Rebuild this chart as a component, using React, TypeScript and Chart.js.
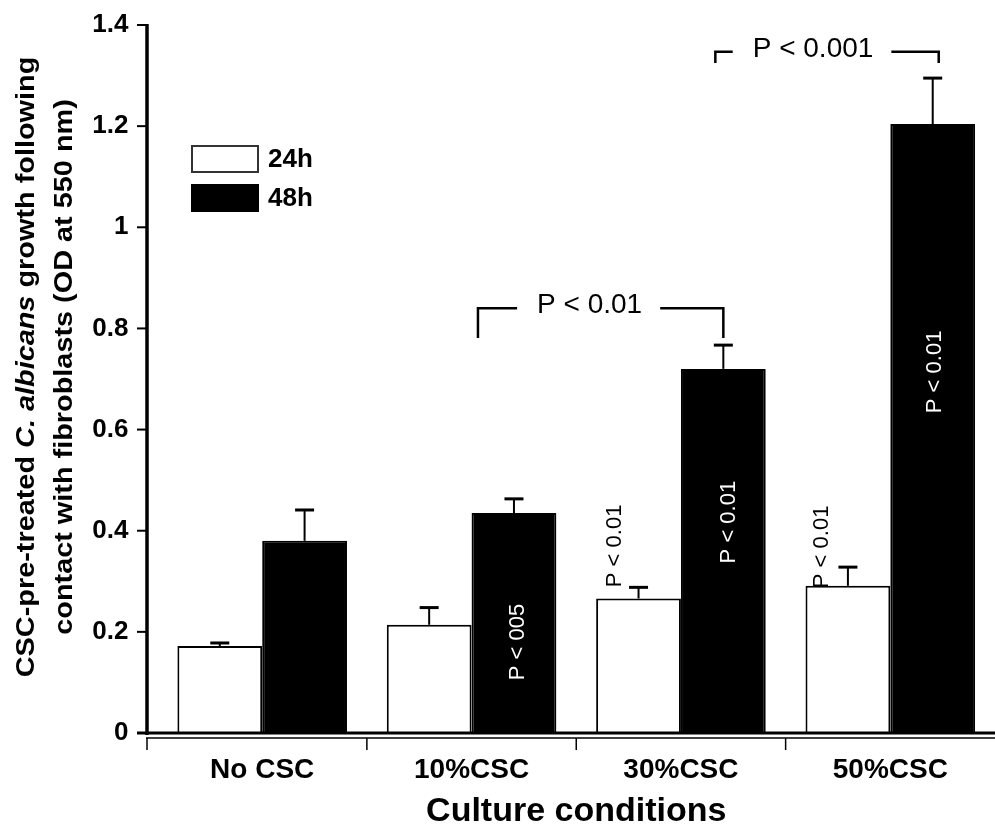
import React, { useEffect, useRef } from 'react';
import { Chart, registerables } from 'chart.js';

Chart.register(...registerables);

const categories = ['No CSC', '10%CSC', '30%CSC', '50%CSC'];
const seriesNames = ['24h', '48h'];
const mean24h = [0.172, 0.214, 0.266, 0.291];
const err24h = [0.006, 0.034, 0.022, 0.037];
const mean48h = [0.38, 0.435, 0.72, 1.204];
const err48h = [0.061, 0.028, 0.047, 0.091];
const yTickValues = [0, 0.2, 0.4, 0.6, 0.8, 1, 1.2, 1.4];
const yTickLabels = ['0', '0.2', '0.4', '0.6', '0.8', '1', '1.2', '1.4'];
const xTitle = 'Culture conditions';
const yTitleLine1 = [
  { t: 'CSC-pre-treated ', i: false },
  { t: 'C. albicans', i: true },
  { t: ' growth following', i: false },
];
const yTitleLine2 = [{ t: 'contact with fibroblasts (OD at 550 nm)', i: false }];

// significance brackets: text, left/right [category, dataset], top value, end value
const bracketTexts = ['P < 0.01', 'P < 0.001'];
const bracketLeft = [[1, 1], [2, 1]];
const bracketRight = [[2, 1], [3, 1]];
const bracketTop = [0.84, 1.347];
const bracketEnd = [0.781, 1.325];
const bracketLeftShift = [-36, -8];
const bracketRightShift = [0, 6];
const bracketTextShift = [-11, -14];

// rotated p-value labels: text, category, dataset, value of centre, colour
const pTexts = ['P < 005', 'P < 0.01', 'P < 0.01', 'P < 0.01', 'P < 0.01'];
const pCats = [1, 2, 3, 2, 3];
const pSets = [1, 1, 1, 0, 0];
const pValues = [0.18, 0.417, 0.714, 0.37, 0.368];
const pColors = ['#ffffff', '#ffffff', '#ffffff', '#000000', '#000000'];
const pShift = [4, 6, 2, -24, -26];

const FONT = '"Liberation Sans", Arial, sans-serif';

const overlay = {
  id: 'overlay',
  afterDatasetsDraw(chart: any) {
    const { ctx, chartArea, scales } = chart;
    const x = scales.x;
    const y = scales.y;
    const y0 = y.getPixelForValue(0);
    const axisX = chartArea.left - 10.5;
    ctx.save();
    ctx.strokeStyle = '#000';
    ctx.lineCap = 'butt';

    // y axis
    ctx.lineWidth = 3.5;
    ctx.beginPath();
    ctx.moveTo(axisX, y.getPixelForValue(1.4) - 1);
    ctx.lineTo(axisX, y0 + 2);
    ctx.stroke();
    ctx.lineWidth = 2;
    yTickValues.forEach((v) => {
      if (v === 0) return;
      const py = y.getPixelForValue(v);
      ctx.beginPath();
      ctx.moveTo(axisX - 10, py);
      ctx.lineTo(axisX, py);
      ctx.stroke();
    });
    // baseline
    ctx.lineWidth = 3;
    ctx.beginPath();
    ctx.moveTo(axisX - 10, y0);
    ctx.lineTo(chartArea.right, y0);
    ctx.stroke();
    // x axis (offset)
    const xa = y0 + 5;
    ctx.lineWidth = 1.5;
    ctx.beginPath();
    ctx.moveTo(axisX - 1, xa);
    ctx.lineTo(chartArea.right, xa);
    ctx.stroke();
    const tickXs = [axisX];
    for (let i = 0; i < categories.length - 1; i++) {
      tickXs.push((x.getPixelForValue(i) + x.getPixelForValue(i + 1)) / 2);
    }
    tickXs.forEach((tx) => {
      ctx.beginPath();
      ctx.moveTo(tx, xa);
      ctx.lineTo(tx, xa + 12);
      ctx.stroke();
    });

    // error bars
    const means = [mean24h, mean48h];
    const errs = [err24h, err48h];
    for (let d = 0; d < 2; d++) {
      const meta = chart.getDatasetMeta(d);
      meta.data.forEach((el: any, i: number) => {
        const bx = el.x;
        const top = y.getPixelForValue(means[d][i] + errs[d][i]);
        const base = y.getPixelForValue(means[d][i]);
        ctx.lineWidth = 2;
        ctx.beginPath();
        ctx.moveTo(bx, base);
        ctx.lineTo(bx, top);
        ctx.stroke();
        ctx.lineWidth = 3;
        ctx.beginPath();
        ctx.moveTo(bx - 9.5, top);
        ctx.lineTo(bx + 9.5, top);
        ctx.stroke();
      });
    }

    // brackets
    ctx.font = `28px ${FONT}`;
    ctx.textAlign = 'center';
    ctx.textBaseline = 'middle';
    bracketTexts.forEach((t, k) => {
      const l = chart.getDatasetMeta(bracketLeft[k][1]).data[bracketLeft[k][0]].x + bracketLeftShift[k];
      const r = chart.getDatasetMeta(bracketRight[k][1]).data[bracketRight[k][0]].x + bracketRightShift[k];
      const ty = y.getPixelForValue(bracketTop[k]);
      const ey = y.getPixelForValue(bracketEnd[k]);
      const cx = (l + r) / 2 + bracketTextShift[k];
      const w = ctx.measureText(t).width;
      ctx.lineWidth = 2.5;
      ctx.beginPath();
      ctx.moveTo(l, ey);
      ctx.lineTo(l, ty);
      ctx.lineTo(cx - w / 2 - 20, ty);
      ctx.moveTo(cx + w / 2 + 18, ty);
      ctx.lineTo(r, ty);
      ctx.lineTo(r, ey);
      ctx.stroke();
      ctx.fillStyle = '#000';
      ctx.fillText(t, cx, ty - 3);
    });

    // rotated p labels
    ctx.font = `22px ${FONT}`;
    pTexts.forEach((t, k) => {
      const el = chart.getDatasetMeta(pSets[k]).data[pCats[k]];
      ctx.save();
      ctx.translate(el.x + pShift[k], y.getPixelForValue(pValues[k]));
      ctx.rotate(-Math.PI / 2);
      ctx.fillStyle = pColors[k];
      ctx.fillText(t, 0, 0);
      ctx.restore();
    });

    // legend
    const lx = 192;
    const lys = [146, 185];
    ctx.textAlign = 'left';
    ctx.font = `bold 26px ${FONT}`;
    seriesNames.forEach((n, k) => {
      ctx.fillStyle = k === 0 ? '#fff' : '#000';
      ctx.fillRect(lx, lys[k], 66, 26);
      ctx.lineWidth = 2;
      ctx.strokeStyle = k === 0 ? '#333' : '#000';
      ctx.strokeRect(lx, lys[k], 66, 26);
      ctx.fillStyle = '#000';
      ctx.fillText(n, 268, lys[k] + 14);
    });

    // y title
    const drawLine = (segs: any[], bx: number, cy: number) => {
      ctx.save();
      ctx.translate(bx, cy);
      ctx.rotate(-Math.PI / 2);
      ctx.scale(1.11, 1);
      ctx.textBaseline = 'alphabetic';
      ctx.textAlign = 'left';
      let total = 0;
      segs.forEach((s) => {
        ctx.font = `${s.i ? 'italic ' : ''}bold 26px ${FONT}`;
        total += ctx.measureText(s.t).width;
      });
      let pos = -total / 2;
      segs.forEach((s) => {
        ctx.font = `${s.i ? 'italic ' : ''}bold 26px ${FONT}`;
        ctx.fillStyle = '#000';
        ctx.fillText(s.t, pos, 0);
        pos += ctx.measureText(s.t).width;
      });
      ctx.restore();
    };
    drawLine(yTitleLine1, 34, 367);
    drawLine(yTitleLine2, 72, 367);

    ctx.restore();
  },
};

export default function App() {
  const ref = useRef<HTMLCanvasElement>(null);
  useEffect(() => {
    if (!ref.current) return;
    const chart = new Chart(ref.current, {
      type: 'bar',
      data: {
        labels: categories,
        datasets: [
          {
            label: seriesNames[0],
            data: mean24h,
            backgroundColor: '#ffffff',
            borderColor: '#000000',
            borderWidth: 2,
          },
          {
            label: seriesNames[1],
            data: mean48h,
            backgroundColor: '#000000',
            borderColor: '#000000',
            borderWidth: 2,
          },
        ],
      },
      options: {
        animation: false,
        responsive: false,
        maintainAspectRatio: false,
        layout: { padding: { left: 0, right: 0, top: 25, bottom: 0 } },
        datasets: { bar: { categoryPercentage: 0.81, barPercentage: 1 } },
        plugins: { legend: { display: false }, tooltip: { enabled: false } },
        scales: {
          x: {
            grid: { display: false, drawTicks: false },
            border: { display: false },
            ticks: {
              color: '#000',
              padding: 20,
              font: { family: FONT, size: 28, weight: 'bold' },
            },
            title: {
              display: true,
              text: xTitle,
              color: '#000',
              padding: { top: 0, bottom: 1 },
              font: { family: FONT, size: 34, weight: 'bold', lineHeight: 1 },
            },
            afterFit: (s: any) => {
              s.height = 97;
              s.paddingLeft = 0;
              s.paddingRight = 0;
            },
          },
          y: {
            min: 0,
            max: 1.4,
            grid: { display: false, drawTicks: false },
            border: { display: false },
            ticks: {
              stepSize: 0.2,
              color: '#000',
              padding: 29,
              font: { family: FONT, size: 26, weight: 'bold' },
              callback: (v: any) => {
                const idx = yTickValues.findIndex((t) => Math.abs(t - Number(v)) < 1e-6);
                return idx >= 0 ? yTickLabels[idx] : '';
              },
            },
            afterFit: (s: any) => {
              s.width = 157.5;
              s.paddingTop = 0;
              s.paddingBottom = 0;
            },
          },
        },
      },
      plugins: [overlay],
    });
    return () => chart.destroy();
  }, []);
  return (
    <div style={{ position: 'absolute', left: 0, top: 0, width: 995, height: 830, background: '#fff' }}>
      <canvas ref={ref} width={995} height={830} style={{ display: 'block' }} />
    </div>
  );
}
